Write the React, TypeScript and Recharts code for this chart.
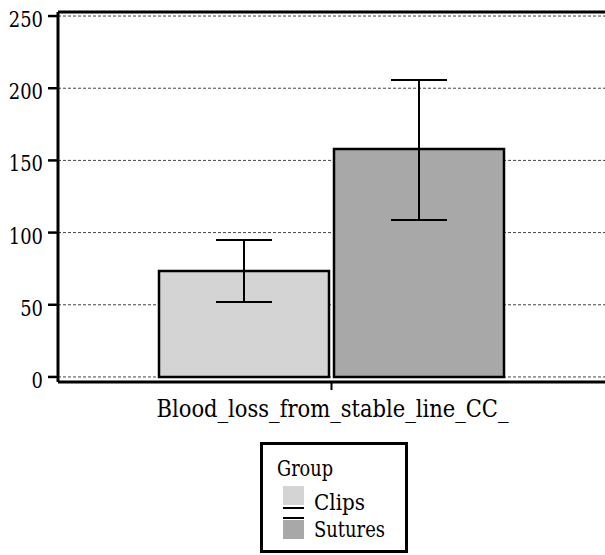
import { BarChart, Bar, XAxis, YAxis, CartesianGrid, ErrorBar, ReferenceLine } from 'recharts';

const measure = ['Blood_loss_from_stable_line_CC_'];
const groups = ['Clips', 'Sutures'];
const means = [73.4, 157.9];
const errLow = [21.5, 49.2];
const errHigh = [21.5, 47.8];
const fills = ['#d4d4d4', '#a8a8a8'];
const yTicks = [0, 50, 100, 150, 200, 250];
const yDomain: [number, number] = [-3.5, 252.8];
const legendTitle = 'Group';

// only serif face that resolves in the sandbox; squeezed to Times-like widths
const font = "'DejaVu Serif', serif";
const squeeze = 0.8;
const approxWidth = (s: string, size: number) => s.length * size * 0.62 * squeeze;

function YTick(props: any) {
  const { y, payload } = props;
  const s = String(payload.value);
  return (
    <text
      x={43}
      y={y + 11}
      textAnchor="end"
      fontFamily={font}
      fontSize={23}
      fill="#000"
      textLength={s.length * 11.4}
      lengthAdjust="spacingAndGlyphs"
    >
      {s}
    </text>
  );
}

function XTick(props: any) {
  const { x, payload } = props;
  return (
    <text
      x={x + 1}
      y={417}
      textAnchor="middle"
      fontFamily={font}
      fontSize={24}
      fill="#000"
      textLength={352}
      lengthAdjust="spacingAndGlyphs"
    >
      {payload.value}
    </text>
  );
}

const data = measure.map((m) => {
  const row: Record<string, any> = { name: m };
  groups.forEach((g, i) => {
    row[g] = means[i];
    row[g + '_err'] = [errLow[i], errHigh[i]];
  });
  return row;
});

function LegendBox() {
  return (
    <svg
      width={148}
      height={111}
      style={{ position: 'absolute', left: 260, top: 442 }}
      fontFamily={font}
      fontSize={23}
    >
      <rect x={1.5} y={1.5} width={145} height={108} fill="#fff" stroke="#000" strokeWidth={3} />
      <text x={17} y={34} fill="#000" textLength={56} lengthAdjust="spacingAndGlyphs">{legendTitle}</text>
      {/* Clips: swatch then bar-line below; Sutures: bar-line then swatch */}
      <rect x={23} y={44} width={21} height={19} fill={fills[0]} />
      <rect x={23} y={65} width={21} height={2} fill="#000" />
      <rect x={23} y={75} width={21} height={2} fill="#000" />
      <rect x={23} y={78} width={21} height={19} fill={fills[1]} />
      {groups.map((g, i) => (
        <text
          key={g}
          x={54}
          y={i === 0 ? 68 : 95}
          fill="#000"
          textLength={Math.round(approxWidth(g, 22) * 0.93)}
          lengthAdjust="spacingAndGlyphs"
        >
          {g}
        </text>
      ))}
    </svg>
  );
}

export default function App() {
  return (
    <div style={{ position: 'absolute', left: 0, top: 0, width: 605, height: 555, background: '#fff' }}>
      <BarChart
        width={605}
        height={555}
        data={data}
        margin={{ top: 12, right: 0, left: 0, bottom: 133 }}
        barSize={170}
        barGap={5}
      >
        <CartesianGrid vertical={false} stroke="#444" strokeDasharray="3 2" />
        <XAxis
          dataKey="name"
          height={40}
          axisLine={{ stroke: '#000', strokeWidth: 3 }}
          tickLine={{ stroke: '#000', strokeWidth: 2 }}
          tickSize={8}
          tick={<XTick />}
        />
        <YAxis
          width={58}
          domain={yDomain}
          ticks={yTicks}
          allowDataOverflow
          axisLine={{ stroke: '#000', strokeWidth: 3 }}
          tickLine={{ stroke: '#000', strokeWidth: 2.5 }}
          tickSize={10}
          tick={<YTick />}
        />
        <ReferenceLine y={yDomain[1]} stroke="#000" strokeWidth={3} />
        {groups.map((g, i) => (
          <Bar key={g} dataKey={g} fill={fills[i]} stroke="#000" strokeWidth={2.5} isAnimationActive={false}>
            <ErrorBar dataKey={g + '_err'} width={28} stroke="#000" strokeWidth={2} direction="y" />
          </Bar>
        ))}
      </BarChart>
      <LegendBox />
    </div>
  );
}
